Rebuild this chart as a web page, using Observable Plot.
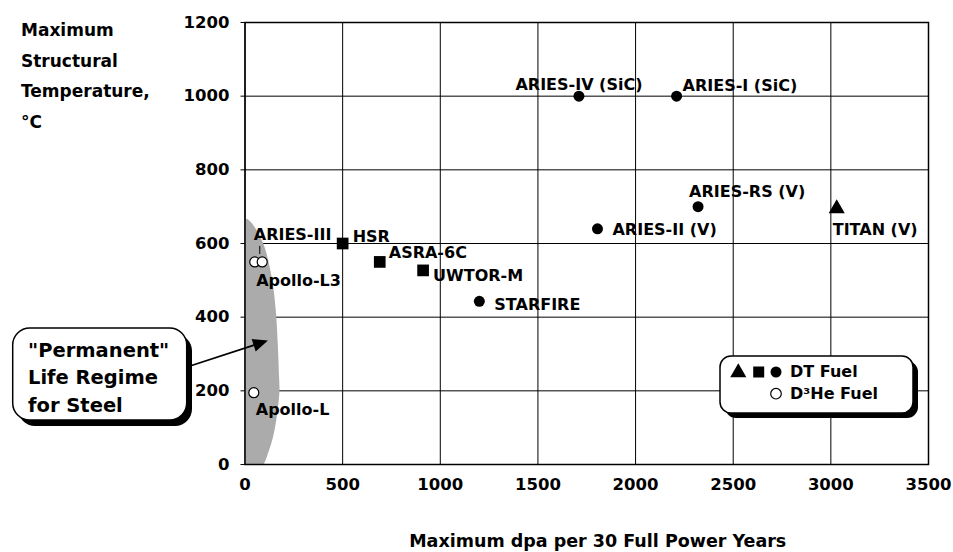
<!DOCTYPE html>
<html><head><meta charset="utf-8">
<script src="https://cdn.jsdelivr.net/npm/d3@7"></script>
<script src="https://cdn.jsdelivr.net/npm/@observablehq/plot@0.6"></script>
<style>html,body{margin:0;padding:0;background:#fff;} svg{display:block;}</style>
</head><body><div id="chart"></div>
<script>
// ---- data ----
const xTicks = [0, 500, 1000, 1500, 2000, 2500, 3000, 3500];
const yTicks = [0, 200, 400, 600, 800, 1000, 1200];

const dtCircleNames = ["ARIES-IV (SiC)", "ARIES-I (SiC)", "ARIES-RS (V)", "ARIES-II (V)", "STARFIRE"];
const dtCircleDpa   = [1710, 2210, 2320, 1805, 1200];
const dtCircleTemp  = [1000, 1000, 700, 640, 443];

const dtSquareNames = ["HSR", "ASRA-6C", "UWTOR-M"];
const dtSquareDpa   = [500, 690, 912];
const dtSquareTemp  = [600, 550, 527];

const dtTriangleNames = ["TITAN (V)"];
const dtTriangleDpa   = [3030];
const dtTriangleTemp  = [695];

const d3heNames = ["ARIES-III", "Apollo-L3", "Apollo-L"];
const d3heDpa   = [50, 88, 45];
const d3heTemp  = [550, 550, 195];

// outline of the "permanent life regime for steel" region (right edge vs temperature)
const steelRegionTemp = [665, 654, 600, 508, 418, 329, 236, 201, 147, 73, 19, 0];
const steelRegionDpa  = [15, 37, 95, 139, 160, 170, 177, 179, 170, 146, 114, 100];

// ---- label placement (style, not data) ----
const labelPlacement = {
  "ARIES-IV (SiC)": {anchor: "middle", dx: 0, dy: -6},
  "ARIES-I (SiC)": {anchor: "start", dx: 6, dy: -5},
  "ARIES-RS (V)": {anchor: "start", dx: -9, dy: -10},
  "ARIES-II (V)": {anchor: "start", dx: 15, dy: 6},
  "STARFIRE": {anchor: "start", dx: 15, dy: 9},
  "HSR": {anchor: "start", dx: 10, dy: -2},
  "ASRA-6C": {anchor: "start", dx: 9, dy: -4},
  "UWTOR-M": {anchor: "start", dx: 10, dy: 11},
  "TITAN (V)": {anchor: "start", dx: -4, dy: 26},
  "ARIES-III": {anchor: "start", dx: -1, dy: -22},
  "Apollo-L3": {anchor: "start", dx: -6, dy: 24},
  "Apollo-L": {anchor: "start", dx: 2, dy: 22}
};

const rows = (names, xs, ys) => names.map((name, i) => ({name, dpa: xs[i], temp: ys[i]}));
const circles = rows(dtCircleNames, dtCircleDpa, dtCircleTemp);
const squares = rows(dtSquareNames, dtSquareDpa, dtSquareTemp);
const triangles = rows(dtTriangleNames, dtTriangleDpa, dtTriangleTemp);
const openCircles = rows(d3heNames, d3heDpa, d3heTemp);
const steel = steelRegionTemp.map((t, i) => ({temp: t, dpa: steelRegionDpa[i]}));
const allPoints = [...circles, ...squares, ...triangles, ...openCircles];

const FONT = "'DejaVu Sans', 'Liberation Sans', sans-serif";
const fmt = d => String(d);

const labelMarks = allPoints.map(p => {
  const pl = labelPlacement[p.name];
  return Plot.text([p], {x: "dpa", y: "temp", text: "name", textAnchor: pl.anchor,
    dx: pl.dx, dy: pl.dy, lineAnchor: "bottom", fontSize: 16, fontWeight: "bold", fill: "black"});
});

const chart = Plot.plot({
  width: 953, height: 552,
  marginLeft: 244.5, marginRight: 25, marginTop: 22, marginBottom: 88,
  style: {fontFamily: FONT, fontWeight: "bold", fontSize: "16.5px", color: "black", background: "white"},
  x: {domain: [0, 3500]},
  y: {domain: [0, 1200]},
  marks: [
    Plot.gridX(xTicks, {stroke: "black", strokeOpacity: 1, strokeWidth: 1}),
    Plot.gridY(yTicks, {stroke: "black", strokeOpacity: 1, strokeWidth: 1}),
    Plot.areaX(steel, {y: "temp", x1: 0, x2: "dpa", fill: "#ababab", curve: "catmull-rom"}),
    Plot.frame({stroke: "black", strokeWidth: 1.5}),
    Plot.axisX(xTicks, {tickSize: 0, tickPadding: 14, tickFormat: fmt, label: null}),
    Plot.axisY(yTicks, {tickSize: 4, tickPadding: 11.5, tickFormat: fmt, label: null}),
    Plot.ruleX(openCircles.filter(d => d.name === "ARIES-III"),
      {x: "dpa", y1: d => d.temp + 20, y2: d => d.temp + 42, dx: 5, stroke: "black", strokeWidth: 1}),
    Plot.dot(circles, {x: "dpa", y: "temp", symbol: "circle", r: 5.5, fill: "black"}),
    Plot.dot(squares, {x: "dpa", y: "temp", symbol: "square", r: 6.6, fill: "black"}),
    Plot.dot(triangles, {x: "dpa", y: "temp", symbol: "triangle", r: 6, fill: "black"}),
    Plot.dot(openCircles, {x: "dpa", y: "temp", symbol: "circle", r: 5, fill: "white", stroke: "black", strokeWidth: 1.2}),
    ...labelMarks,
    Plot.text(["Maximum\nStructural\nTemperature,\n°C"], {frameAnchor: "top-left", dx: -224, dy: -8,
      textAnchor: "start", lineAnchor: "top", lineHeight: 1.8, fontSize: 17, fontWeight: "bold"}),
    Plot.text(["Maximum dpa per 30 Full Power Years"], {frameAnchor: "bottom", dx: 11, dy: 82.7,
      lineAnchor: "bottom", fontSize: 17.5, fontWeight: "bold"})
  ]
});

// ---- annotations: callout box + arrow, legend box ----
const svg = d3.select(chart);
const xs = chart.scale("x"), ys = chart.scale("y");

// callout
const callout = svg.append("g").attr("text-anchor", "start");
callout.append("rect").attr("x", 18).attr("y", 334).attr("width", 174).attr("height", 92)
  .attr("rx", 17).attr("fill", "black");
callout.append("rect").attr("x", 12.7).attr("y", 328).attr("width", 174).attr("height", 92)
  .attr("rx", 17).attr("fill", "white").attr("stroke", "black").attr("stroke-width", 1.5);
[["\"Permanent\"", 356.7], ["Life Regime", 383.5], ["for Steel", 411.7]].forEach(([t, y]) => {
  callout.append("text").attr("x", 28).attr("y", y).text(t).attr("text-anchor", "start")
    .attr("font-family", FONT).attr("font-weight", "bold").attr("font-size", 19.5).attr("fill", "black");
});
// arrow into the steel region
const tip = [xs.apply(120), ys.apply(335)];
const tail = [190, 366];
const ux = tip[0] - tail[0], uy = tip[1] - tail[1], L = Math.hypot(ux, uy);
const u = [ux / L, uy / L], n = [-u[1], u[0]];
const hl = 15, hw = 6.5;
const base = [tip[0] - hl * u[0], tip[1] - hl * u[1]];
callout.append("line").attr("x1", tail[0]).attr("y1", tail[1]).attr("x2", base[0] + 2 * u[0]).attr("y2", base[1] + 2 * u[1])
  .attr("stroke", "black").attr("stroke-width", 1.6);
callout.append("path").attr("d", `M${tip}L${base[0] + hw * n[0]},${base[1] + hw * n[1]}L${base[0] - hw * n[0]},${base[1] - hw * n[1]}Z`)
  .attr("fill", "black");

// legend
const legend = svg.append("g").attr("text-anchor", "start");
legend.append("rect").attr("x", 725).attr("y", 361).attr("width", 193).attr("height", 57).attr("rx", 11).attr("fill", "black");
legend.append("rect").attr("x", 720).attr("y", 356).attr("width", 193).attr("height", 57).attr("rx", 11)
  .attr("fill", "white").attr("stroke", "black").attr("stroke-width", 1.5);
const sym = (type, size) => d3.symbol(type, size)();
legend.append("path").attr("d", sym(d3.symbolTriangle, 113)).attr("transform", "translate(738.3,372.5)").attr("fill", "black");
legend.append("path").attr("d", sym(d3.symbolSquare, 121)).attr("transform", "translate(758.7,372)").attr("fill", "black");
legend.append("circle").attr("cx", 776).attr("cy", 372).attr("r", 5.5).attr("fill", "black");
legend.append("circle").attr("cx", 776).attr("cy", 393.7).attr("r", 5.3).attr("fill", "white").attr("stroke", "black").attr("stroke-width", 1.2);
[["DT Fuel", 376.7], ["D³He Fuel", 399]].forEach(([t, y]) => {
  legend.append("text").attr("x", 790).attr("y", y).text(t).attr("text-anchor", "start")
    .attr("font-family", FONT).attr("font-weight", "bold").attr("font-size", 16).attr("fill", "black");
});

document.getElementById("chart").appendChild(chart);
</script>
</body></html>
